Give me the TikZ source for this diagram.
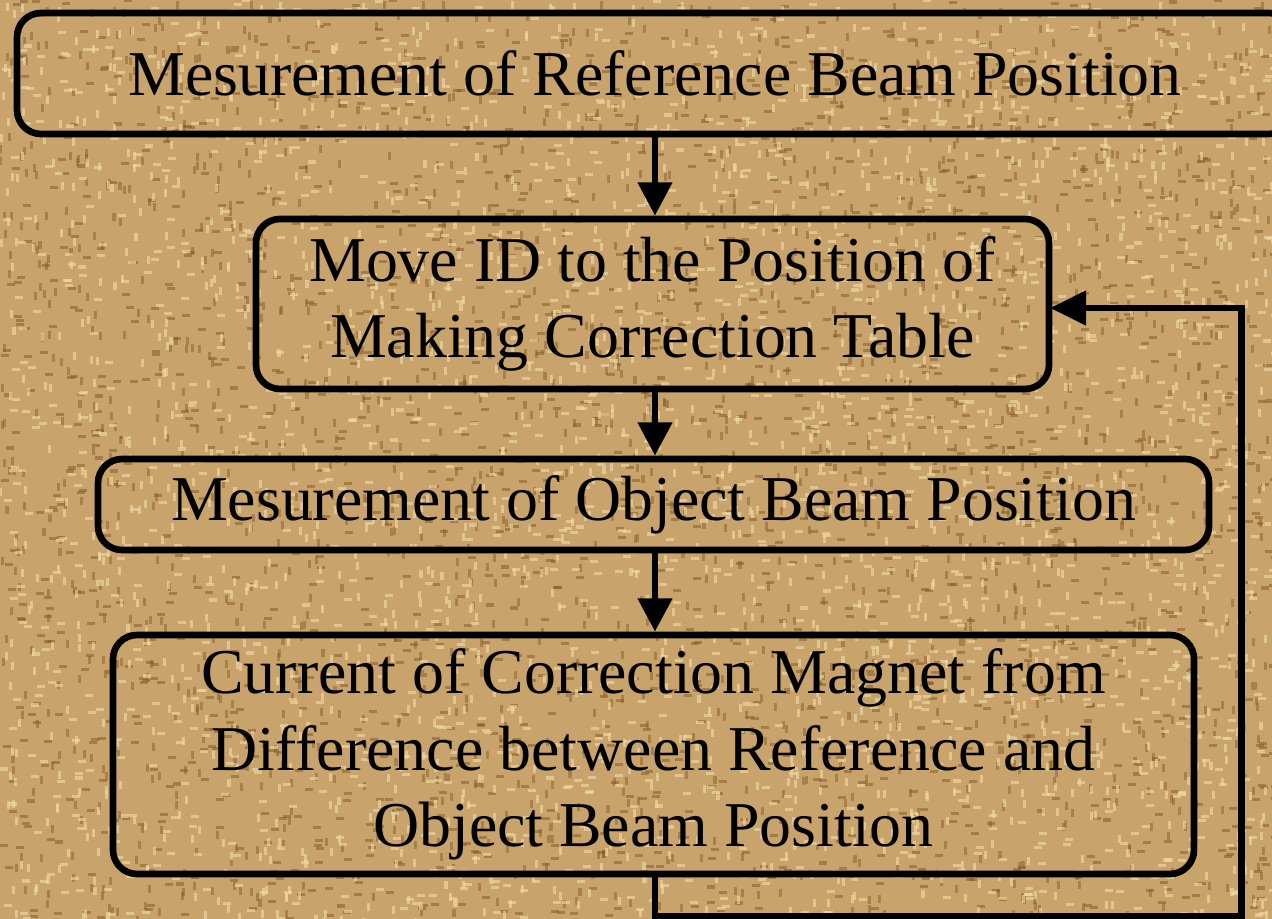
\documentclass[tikz,border=0pt]{standalone}
\usepackage{fontspec}
\setmainfont{Liberation Serif}
\usetikzlibrary{arrows.meta}
\definecolor{burlap}{RGB}{200,164,108}
\definecolor{burlapdark}{RGB}{130,86,34}
\definecolor{burlaplight}{RGB}{240,220,168}
\begin{document}
\begin{tikzpicture}[x=0.75pt,y=-0.75pt,
  flowbox/.style={draw=black, line width=5pt, rounded corners=18pt, align=center,
    inner sep=0pt, text=black, font=\fontsize{47.9pt}{57.5pt}\selectfont},
  flowarrow/.style={draw=black, line width=5pt, -{Triangle[length=25pt,width=25pt]}},
  fleck/.style={line width=2.3pt}]
% background
\fill[burlap] (0,0) rectangle (1272,919);
\useasboundingbox (0,0) rectangle (1272,919);
\pgfmathsetseed{42}
\foreach \i in {1,...,3200}{
  \pgfmathsetmacro{\xa}{rnd*1272}
  \pgfmathsetmacro{\ya}{rnd*919}
  \pgfmathsetmacro{\o}{rnd}
  \ifdim\o pt<0.5pt
    \draw[fleck,burlapdark,opacity=0.5] (\xa,\ya) -- ++(8,0);
  \else
    \draw[fleck,burlapdark,opacity=0.45] (\xa,\ya) -- ++(0,8);
  \fi
}
\foreach \i in {1,...,3200}{
  \pgfmathsetmacro{\xa}{rnd*1272}
  \pgfmathsetmacro{\ya}{rnd*919}
  \pgfmathsetmacro{\o}{rnd}
  \ifdim\o pt<0.5pt
    \draw[fleck,burlaplight,opacity=0.6] (\xa,\ya) -- ++(8,0);
  \else
    \draw[fleck,burlaplight,opacity=0.6] (\xa,\ya) -- ++(0,8);
  \fi
}
% boxes
\node[flowbox, minimum width=957pt, minimum height=90.75pt] (b1) at (655,73.5)
  {Mesurement of Reference Beam Position};
\node[flowbox, minimum width=594.75pt, minimum height=127.5pt] (b2) at (652.5,304)
  {Move ID to the Position of\\Making Correction Table};
\node[flowbox, minimum width=833.25pt, minimum height=68.25pt] (b3) at (653.5,504.5)
  {Mesurement of Object Beam Position};
\node[flowbox, minimum width=810.75pt, minimum height=179.25pt] (b4) at (653.5,754.5)
  {Current of Correction Magnet from\\Difference between Reference and\\Object Beam Position};
% connectors
\draw[flowarrow] (b1.south -| 655,0) -- (b2.north -| 655,0);
\draw[flowarrow] (b2.south -| 655,0) -- (b3.north -| 655,0);
\draw[flowarrow] (b3.south -| 655,0) -- (b4.north -| 655,0);
\coordinate (loop) at (1241.5,916.5);
\coordinate (ret) at (1050,308);
\draw[flowarrow, -{Triangle[length=27pt,width=25pt]}] (b4.south -| 655,0) |- (loop) |- (ret);
\end{tikzpicture}
\end{document}
